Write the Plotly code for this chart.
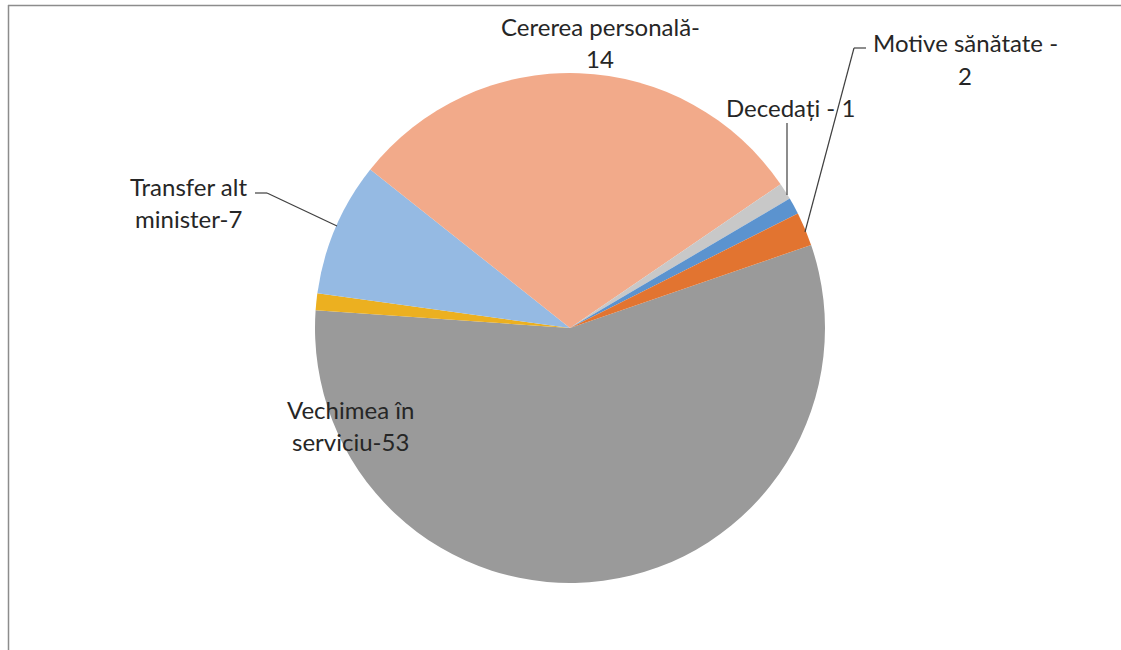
import plotly.graph_objects as go

categories = ["Vechimea în serviciu", "Altele", "Transfer alt minister",
              "Cererea personală", "Nespecificat", "Decedați", "Motive sănătate"]
values = [53, 1, 8, 28, 1, 1, 2]
colors = ["#9a9a9a", "#ecb020", "#95bae3", "#f2aa8a", "#c8c8c8", "#5b93cf", "#e27430"]

# data-label texts (one entry per line)
label_lines = {
    "Cererea personală": ["Cererea personală-", "14"],
    "Motive sănătate": ["Motive sănătate -", "2"],
    "Decedați": ["Decedați - 1"],
    "Transfer alt minister": ["Transfer alt", "minister-7"],
    "Vechimea în serviciu": ["Vechimea în", "serviciu-53"],
}

W, H = 1121, 650
cx, cy, r = 570, 328, 255


def px(x):
    return x / W


def py(y):
    return 1 - y / H


fig = go.Figure()
fig.add_trace(go.Pie(
    labels=categories, values=values, sort=False, direction="clockwise",
    rotation=71, marker=dict(colors=colors, line=dict(width=0)),
    textinfo="none", hoverinfo="label+value", showlegend=False,
    domain=dict(x=[px(cx - r), px(cx + r)], y=[py(cy + r), py(cy - r)]),
))

# label placement (pixel centres of first line)
label_pos = {
    "Cererea personală": (600, 27),
    "Motive sănătate": (965, 43),
    "Decedați": (790, 107),
    "Transfer alt minister": (188, 186),
    "Vechimea în serviciu": (350, 409),
}
line_gap = 32
font = dict(family="Lato, Open Sans, sans-serif", size=24, color="#262626")
annotations = []
for cat, lines in label_lines.items():
    x0, y0 = label_pos[cat]
    for i, t in enumerate(lines):
        annotations.append(dict(
            x=px(x0), y=py(y0 + i * line_gap), xref="paper", yref="paper",
            text=t, showarrow=False, font=font, xanchor="center", yanchor="middle"))

# leader lines
leaders = [
    [(337, 226), (267, 193), (255, 193)],
    [(787, 195), (787, 123)],
    [(805, 232), (854, 48), (866, 48)],
]
shapes = []
for pts in leaders:
    for (x1, y1), (x2, y2) in zip(pts[:-1], pts[1:]):
        shapes.append(dict(type="line", xref="paper", yref="paper",
                           x0=px(x1), y0=py(y1), x1=px(x2), y1=py(y2),
                           line=dict(color="#404040", width=1.2)))
# chart area border (top and left visible)
shapes.append(dict(type="line", xref="paper", yref="paper", x0=px(8), y0=py(5.5),
                   x1=1.0, y1=py(5.5), line=dict(color="#8c8c8c", width=1.5)))
shapes.append(dict(type="line", xref="paper", yref="paper", x0=px(8.5), y0=py(5),
                   x1=px(8.5), y1=0.0, line=dict(color="#8c8c8c", width=1.5)))

fig.update_layout(
    width=W, height=H, margin=dict(l=0, r=0, t=0, b=0),
    paper_bgcolor="white", plot_bgcolor="white",
    annotations=annotations, shapes=shapes,
)
fig.write_html("out.html", config={"displayModeBar": False},
               post_script="document.body.style.margin='0';")
